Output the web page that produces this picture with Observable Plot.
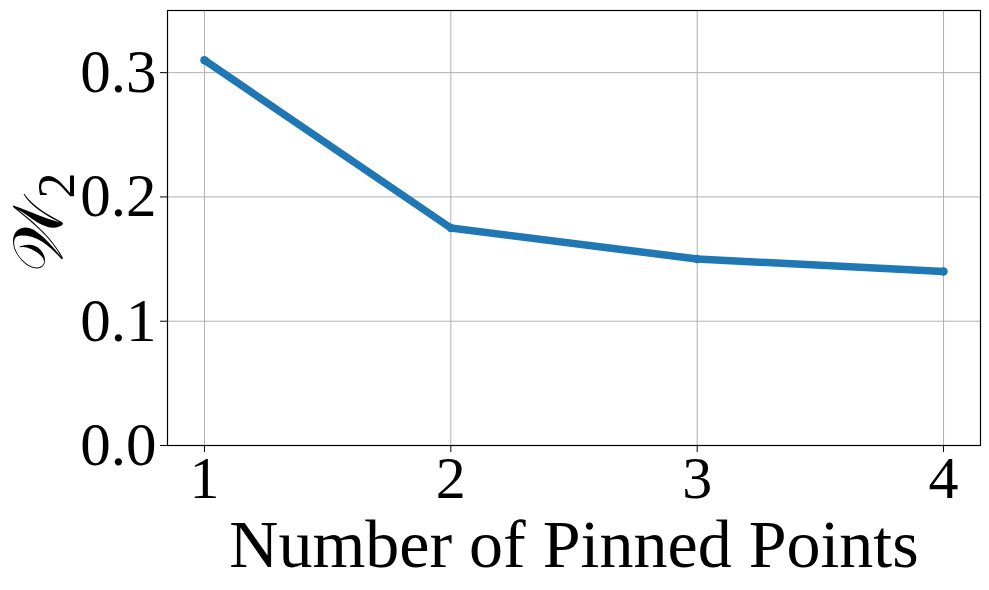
<!DOCTYPE html>
<html><head><meta charset="utf-8">
<script src="https://cdn.jsdelivr.net/npm/d3@7"></script>
<script src="https://cdn.jsdelivr.net/npm/@observablehq/plot@0.6"></script>
<style>body{margin:0;background:#fff;} svg{display:block;}</style>
</head><body><div id="chart"></div>
<script>
const pinnedPoints = [1, 2, 3, 4];
const w2Values = [0.31, 0.175, 0.15, 0.14];
const yTicks = [0.0, 0.1, 0.2, 0.3];
const xLabel = "Number of Pinned Points";

const data = pinnedPoints.map((p, i) => ({p, v: w2Values[i]}));
const font = "'Liberation Serif', 'Times New Roman', serif";

const chart = Plot.plot({
  width: 989, height: 590,
  marginLeft: 167, marginRight: 9, marginTop: 10, marginBottom: 145,
  style: {fontFamily: font, background: "#fff"},
  x: {domain: [0.85, 4.15], ticks: pinnedPoints, tickFormat: d3.format("d"), label: null},
  y: {domain: [0, 0.35], ticks: yTicks, tickFormat: d3.format(".1f"), label: null},
  marks: [
    Plot.gridX(pinnedPoints, {stroke: "#b0b0b0", strokeOpacity: 1, strokeWidth: 1}),
    Plot.gridY(yTicks, {stroke: "#b0b0b0", strokeOpacity: 1, strokeWidth: 1}),
    Plot.axisX(pinnedPoints, {tickSize: 7, tickPadding: 3, fontSize: 60, tickFormat: d3.format("d"), stroke: "#000", fill: "#000",
      label: xLabel, labelAnchor: "center", labelArrow: "none", labelOffset: 121}),
    Plot.axisY(yTicks, {tickSize: 7, tickPadding: 4, fontSize: 61, tickFormat: d3.format(".1f"), stroke: "#000", fill: "#000", label: null}),
    Plot.line(data, {x: "p", y: "v", stroke: "#1f77b4", strokeWidth: 7.5, strokeLinecap: "butt"}),
    Plot.dot(data, {x: "p", y: "v", r: 4.2, fill: "#1f77b4"}),
    Plot.frame({stroke: "#000", strokeWidth: 1.2})
  ]
});
document.getElementById("chart").appendChild(chart);
const svg = d3.select(chart);
svg.selectAll("[aria-label='x-axis label'] text").attr("font-size", 68).attr("fill", "#000");
const yl = svg.append("text")
  .attr("transform", "translate(62,222) rotate(-90)")
  .attr("text-anchor", "middle")
  .attr("font-family", font)
  .attr("font-size", 70)
  .attr("fill", "#000");
yl.append("tspan").text("𝒲");
yl.append("tspan").attr("font-size", 52).attr("dy", 12).text("2");
</script></body></html>
